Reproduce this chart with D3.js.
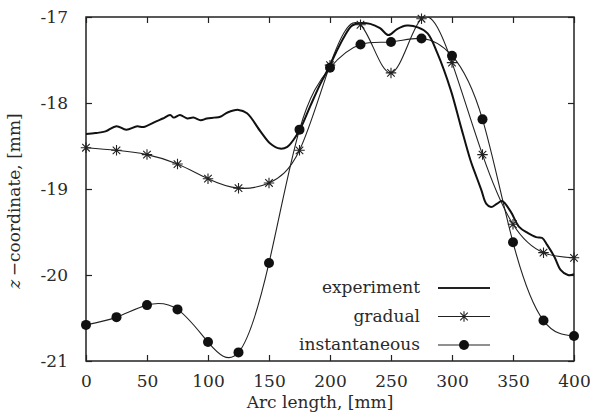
<!DOCTYPE html>
<html>
<head>
<meta charset="utf-8">
<script src="https://cdn.jsdelivr.net/npm/d3@7"></script>
</head>
<body style="margin: 0; background: #fff;">
<div id="chart"></div>
<script>
const width = 590;
const height = 415;
const margin = { top: 17, right: 16, bottom: 54, left: 86 };
const fontFamily = "DejaVu Serif";
const fontSize = 17;

// simulated profiles, sampled every 25 mm
const arcPoints = [0, 25, 50, 75, 100, 125, 150, 175, 200, 225, 250, 275, 300, 325, 350, 375, 400];
const gradualZ = [-18.52, -18.55, -18.6, -18.71, -18.88, -18.99, -18.93, -18.55, -17.56,
  -17.09, -17.65, -17.02, -17.53, -18.6, -19.41, -19.74, -19.8];
const instantZ = [-20.58, -20.49, -20.35, -20.4, -20.78, -20.9, -19.86, -18.31, -17.59,
  -17.32, -17.29, -17.25, -17.45, -18.19, -19.62, -20.53, -20.71];

// measured profile
const expArc = [0, 8, 16, 25, 33, 42, 47, 58, 63, 69, 72, 77, 83, 88, 94, 99, 105, 110, 116,
  125, 132, 143, 151, 159, 165, 170, 176, 184, 192, 199, 205, 212, 218, 225, 233, 241, 248,
  255, 263, 272, 280, 288, 299, 307, 315, 318, 324, 328, 332, 337, 341, 348, 355, 362, 369,
  374, 378, 384, 389, 395, 400];
const expZ = [-18.36, -18.35, -18.33, -18.27, -18.31, -18.27, -18.28, -18.21, -18.18, -18.14,
  -18.17, -18.14, -18.18, -18.17, -18.2, -18.18, -18.17, -18.16, -18.11, -18.08, -18.12,
  -18.33, -18.47, -18.53, -18.51, -18.43, -18.29, -18.03, -17.78, -17.59, -17.41, -17.22,
  -17.1, -17.07, -17.08, -17.13, -17.21, -17.14, -17.1, -17.12, -17.19, -17.42, -17.85,
  -18.26, -18.66, -18.78, -19.01, -19.17, -19.21, -19.17, -19.14, -19.26, -19.44, -19.51,
  -19.56, -19.57, -19.65, -19.79, -19.94, -20.0, -19.99];

const xTicks = [0, 50, 100, 150, 200, 250, 300, 350, 400];
const yTicks = [-17, -18, -19, -20, -21];
const legendNames = ["experiment", "gradual", "instantaneous"];

const x = d3.scaleLinear().domain([0, 400]).range([margin.left, width - margin.right]);
const y = d3.scaleLinear().domain([-21, -17]).range([height - margin.bottom, margin.top]);

const svg = d3.select("#chart").append("svg")
  .attr("width", width)
  .attr("height", height)
  .attr("font-family", fontFamily)
  .attr("font-size", fontSize);

svg.append("clipPath").attr("id", "clip")
  .append("rect")
  .attr("x", x(0)).attr("y", y(-17))
  .attr("width", x(400) - x(0)).attr("height", y(-21) - y(-17));

// axes, ticks pointing inward and mirrored
function styleAxis(g) {
  g.attr("font-family", fontFamily).attr("font-size", fontSize);
  g.select(".domain").remove();
  g.selectAll(".tick line").attr("stroke", "#222").attr("stroke-width", 1.2);
  g.selectAll(".tick text").attr("fill", "#2a2a2a");
}
svg.append("g")
  .attr("transform", `translate(0,${y(-21)})`)
  .call(d3.axisBottom(x).tickValues(xTicks).tickSize(-6).tickPadding(14).tickFormat((d) => String(d)))
  .call(styleAxis);
svg.append("g")
  .attr("transform", `translate(0,${y(-17)})`)
  .call(d3.axisTop(x).tickValues(xTicks).tickSize(-6).tickFormat(""))
  .call(styleAxis);
svg.append("g")
  .attr("transform", `translate(${x(0)},0)`)
  .call(d3.axisLeft(y).tickValues(yTicks).tickSize(-6).tickPadding(18).tickFormat((d) => String(d)))
  .call(styleAxis);
svg.append("g")
  .attr("transform", `translate(${x(400)},0)`)
  .call(d3.axisRight(y).tickValues(yTicks).tickSize(-6).tickFormat(""))
  .call(styleAxis);

svg.append("rect")
  .attr("x", x(0)).attr("y", y(-17))
  .attr("width", x(400) - x(0)).attr("height", y(-21) - y(-17))
  .attr("fill", "none").attr("stroke", "#222").attr("stroke-width", 1.5);

// axis titles
svg.append("text")
  .attr("x", 320).attr("y", 408)
  .attr("text-anchor", "middle")
  .attr("fill", "#2a2a2a")
  .text("Arc length, [mm]");

const yTitle = svg.append("text")
  .attr("transform", "translate(20,201) rotate(-90)")
  .attr("text-anchor", "middle")
  .attr("fill", "#2a2a2a");
yTitle.append("tspan").attr("font-style", "italic").text("z");
yTitle.append("tspan").text("\u2009\u2212coordinate, [mm]");

// 8-armed star marker
const star = {
  draw(ctx, size) {
    const r = Math.sqrt(size) / 2;
    const d = r * 0.72;
    ctx.moveTo(-r, 0); ctx.lineTo(r, 0);
    ctx.moveTo(0, -r); ctx.lineTo(0, r);
    ctx.moveTo(-d, -d); ctx.lineTo(d, d);
    ctx.moveTo(-d, d); ctx.lineTo(d, -d);
  }
};

const plot = svg.append("g").attr("clip-path", "url(#clip)");

const smooth = d3.line()
  .x((d) => x(d[0]))
  .y((d) => y(d[1]))
  .curve(d3.curveNatural);

const exper = d3.line()
  .x((d) => x(d[0]))
  .y((d) => y(d[1]))
  .curve(d3.curveCatmullRom);

const gradual = arcPoints.map((s, i) => [s, gradualZ[i]]);
const instant = arcPoints.map((s, i) => [s, instantZ[i]]);
const experiment = expArc.map((s, i) => [s, expZ[i]]);

plot.append("path").datum(instant)
  .attr("d", smooth).attr("fill", "none").attr("stroke", "#222").attr("stroke-width", 1.1);
plot.append("path").datum(gradual)
  .attr("d", smooth).attr("fill", "none").attr("stroke", "#222").attr("stroke-width", 1.1);
plot.append("path").datum(experiment)
  .attr("d", exper).attr("fill", "none").attr("stroke", "#111").attr("stroke-width", 2);

svg.selectAll(".star")
  .data(gradual)
  .enter()
  .append("path")
  .attr("class", "star")
  .attr("transform", (d) => `translate(${x(d[0])},${y(d[1])})`)
  .attr("d", d3.symbol(star, 110))
  .attr("fill", "none").attr("stroke", "#222").attr("stroke-width", 1.1);

svg.selectAll(".dot")
  .data(instant)
  .enter()
  .append("circle")
  .attr("class", "dot")
  .attr("cx", (d) => x(d[0]))
  .attr("cy", (d) => y(d[1]))
  .attr("r", 5)
  .attr("fill", "#111");

// legend
const legend = svg.append("g");
legendNames.forEach((name, i) => {
  const ly = 288 + i * 28.5;
  legend.append("text")
    .attr("x", 420).attr("y", ly)
    .attr("dy", "0.32em")
    .attr("text-anchor", "end")
    .attr("fill", "#2a2a2a")
    .text(name);
  legend.append("line")
    .attr("x1", 438).attr("x2", 490)
    .attr("y1", ly).attr("y2", ly)
    .attr("stroke", "#222").attr("stroke-width", i === 0 ? 2 : 1.1);
  if (i === 1) {
    legend.append("path")
      .attr("transform", `translate(464,${ly})`)
      .attr("d", d3.symbol(star, 110))
      .attr("fill", "none").attr("stroke", "#222").attr("stroke-width", 1.1);
  }
  if (i === 2) {
    legend.append("circle")
      .attr("cx", 464).attr("cy", ly).attr("r", 5).attr("fill", "#111");
  }
});
</script>
</body>
</html>
